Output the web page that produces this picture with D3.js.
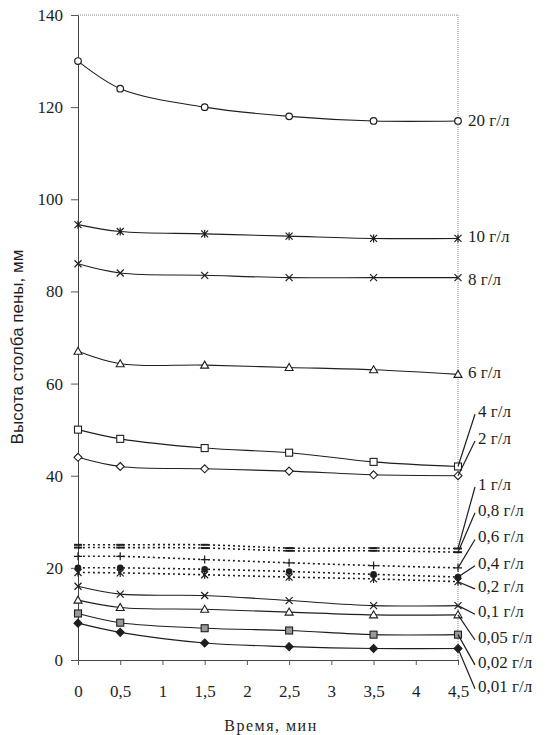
<!DOCTYPE html>
<html>
<head>
<meta charset="utf-8">
<script src="https://cdn.jsdelivr.net/npm/d3@7"></script>
</head>
<body style="margin:0">
<svg id="chart" width="547" height="735" font-family="Liberation Serif" style="font-family: 'Liberation Serif'"></svg>
<script>
// time points, min
var times = [0, 0.5, 1.5, 2.5, 3.5, 4.5]
var xTicks = [0, 0.5, 1, 1.5, 2, 2.5, 3, 3.5, 4, 4.5]
var yTicks = [0, 20, 40, 60, 80, 100, 120, 140]

// foam column height, mm, one array per concentration
var h20 = [130, 124, 120, 118, 117, 117]
var h10 = [94.5, 93, 92.5, 92, 91.5, 91.5]
var h8 = [86, 84, 83.5, 83, 83, 83]
var h6 = [67, 64.3, 64, 63.5, 63, 62]
var h4 = [50, 48, 46, 45, 43, 42]
var h2 = [44, 42, 41.5, 41, 40.2, 40]
var h1 = [25, 25, 25, 24.3, 24.3, 24.2]
var h08 = [24.4, 24.4, 24.3, 23.7, 23.7, 23.4]
var h06 = [22.5, 22.5, 21.8, 21.1, 20.5, 20]
var h04 = [20, 20, 19.7, 19.2, 18.6, 18]
var h02 = [19, 18.9, 18.5, 18, 17.6, 17]
var h01 = [16, 14.3, 14, 12.9, 11.8, 11.8]
var h005 = [13, 11.4, 11, 10.4, 9.8, 9.8]
var h002 = [10.1, 8.1, 6.9, 6.4, 5.5, 5.5]
var h001 = [8, 6, 3.7, 2.9, 2.5, 2.5]

var labels = ["20 г/л", "10 г/л", "8 г/л", "6 г/л", "4 г/л", "2 г/л", "1 г/л", "0,8 г/л",
    "0,6 г/л", "0,4 г/л", "0,2 г/л", "0,1 г/л", "0,05 г/л", "0,02 г/л", "0,01 г/л"]
var values = [h20, h10, h8, h6, h4, h2, h1, h08, h06, h04, h02, h01, h005, h002, h001]
var markers = ["circle", "asterisk", "cross", "triangle", "square", "diamond", "dash", "dash",
    "plus", "dot", "asterisk", "cross", "triangle", "graysquare", "filldiamond"]
var dotted = [false, false, false, false, false, false, true, true, true, true, true, false, false, false, false]

// where the label text sits (in axis units) and whether it gets a leader line
var labelAt = [117.3, 92, 82.7, 62.5, 54, 48.2, 38.2, 32.6, 26.8, 21.1, 16.1, 10.6, 5.0, -0.4, -5.6]
var leader = [false, false, false, false, true, true, true, true, true, true, true, true, true, true, true]

var dimensions = {
    width: 547,
    height: 735,
    margin: { top: 15, bottom: 75, left: 78, right: 89 }
}

var ink = "#1e1e1e"

var svg = d3.select("#chart")

function serifText(sel, size) {
    sel.attr("font-family", "Liberation Serif")
        .style("font-family", "'Liberation Serif'")
        .style("font-size", size + "px")
        .attr("fill", ink)
}

var xScale = d3.scaleLinear()
    .domain([0, 4.5])
    .range([dimensions.margin.left, dimensions.width - dimensions.margin.right])

var yScale = d3.scaleLinear()
    .domain([0, 140])
    .range([dimensions.height - dimensions.margin.bottom, dimensions.margin.top])

var fmt = d => String(d).replace(".", ",")

// plot frame (top/right dotted)
svg.append("path")
    .attr("d", "M" + xScale(0) + "," + yScale(140) + "H" + xScale(4.5) + "V" + yScale(0))
    .attr("fill", "none")
    .attr("stroke", "#888")
    .attr("stroke-width", 1)
    .attr("stroke-dasharray", "1,1")

var yAxisGen = d3.axisLeft(yScale)
    .tickValues(yTicks)
    .tickSizeInner(7)
    .tickSizeOuter(0)
    .tickPadding(8)

var yAxis = svg.append("g")
    .attr("transform", "translate(" + xScale(0) + ",0)")
    .call(yAxisGen)
    .attr("font-family", "Liberation Serif")
yAxis.select(".domain").attr("stroke", "#444")
yAxis.selectAll(".tick line").attr("stroke", "#555")
yAxis.selectAll("text").call(serifText, 17)

var xAxisGen = d3.axisBottom(xScale)
    .tickValues(xTicks)
    .tickFormat(fmt)
    .tickSizeInner(5)
    .tickSizeOuter(0)
    .tickPadding(20)

var xAxis = svg.append("g")
    .attr("transform", "translate(0," + yScale(0) + ")")
    .call(xAxisGen)
    .attr("font-family", "Liberation Serif")
xAxis.select(".domain").attr("stroke", "#444")
xAxis.selectAll(".tick line").attr("stroke", "#555")
xAxis.selectAll("text").call(serifText, 17)

// axis titles
svg.append("text")
    .attr("transform", "translate(23," + 347 + ") rotate(-90)")
    .attr("text-anchor", "middle")
    .attr("fill", ink)
    .attr("font-family", "Liberation Sans")
    .style("font-family", "'Liberation Sans'")
    .style("font-size", "17px")
    .text("Высота столба пены, мм")

svg.append("text")
    .attr("x", 271)
    .attr("y", 731)
    .attr("text-anchor", "middle")
    .call(serifText, 16)
    .attr("letter-spacing", "1.5")
    .text("Время, мин")

// series lines
var line = d3.line()
    .x((d, i) => xScale(times[i]))
    .y(d => yScale(d))
    .curve(d3.curveCatmullRom.alpha(0.5))

var series = svg.append("g")
    .selectAll(".series")
    .data(values)
    .enter()
    .append("g")
    .attr("class", "series")

series.append("path")
    .attr("d", d => line(d))
    .attr("fill", "none")
    .attr("stroke", ink)
    .attr("stroke-width", (d, i) => dotted[i] ? 1.6 : 1.1)
    .attr("stroke-dasharray", (d, i) => dotted[i] ? "2,3" : null)

function drawMarker(g, type, x, y) {
    var s = 3.5
    if (type == "circle") {
        g.append("circle").attr("cx", x).attr("cy", y).attr("r", 3.3)
            .attr("fill", "#fff").attr("stroke", ink).attr("stroke-width", 1.2)
    } else if (type == "dot") {
        g.append("circle").attr("cx", x).attr("cy", y).attr("r", 3.3)
            .attr("fill", ink)
    } else if (type == "triangle") {
        g.append("path").attr("d", "M" + x + "," + (y - 4) + "L" + (x + 4) + "," + (y + 3) + "L" + (x - 4) + "," + (y + 3) + "Z")
            .attr("fill", "#fff").attr("stroke", ink).attr("stroke-width", 1.1)
    } else if (type == "square" || type == "graysquare") {
        g.append("rect").attr("x", x - s).attr("y", y - s).attr("width", 2 * s).attr("height", 2 * s)
            .attr("fill", type == "square" ? "#fff" : "#999").attr("stroke", ink).attr("stroke-width", 1.1)
    } else if (type == "diamond" || type == "filldiamond") {
        g.append("path").attr("d", "M" + x + "," + (y - 4) + "L" + (x + 4) + "," + y + "L" + x + "," + (y + 4) + "L" + (x - 4) + "," + y + "Z")
            .attr("fill", type == "diamond" ? "#fff" : ink).attr("stroke", ink).attr("stroke-width", 1.1)
    } else if (type == "cross" || type == "asterisk") {
        var d = "M" + (x - s) + "," + (y - s) + "L" + (x + s) + "," + (y + s) + "M" + (x - s) + "," + (y + s) + "L" + (x + s) + "," + (y - s)
        if (type == "asterisk") d += "M" + x + "," + (y - 4) + "V" + (y + 4)
        g.append("path").attr("d", d).attr("stroke", ink).attr("stroke-width", 1.2).attr("fill", "none")
    } else if (type == "plus") {
        g.append("path").attr("d", "M" + (x - 4) + "," + y + "H" + (x + 4) + "M" + x + "," + (y - 4) + "V" + (y + 4))
            .attr("stroke", ink).attr("stroke-width", 1.2)
    } else if (type == "dash") {
        g.append("path").attr("d", "M" + (x - 4) + "," + y + "H" + (x + 4))
            .attr("stroke", ink).attr("stroke-width", 2)
    }
}

series.each(function (d, i) {
    var g = d3.select(this)
    d.forEach(function (v, j) {
        drawMarker(g, markers[i], xScale(times[j]), yScale(v))
    })
})

// end labels with leader lines
values.forEach(function (d, i) {
    var x0 = xScale(4.5)
    var y0 = yScale(d[d.length - 1])
    var ly = yScale(labelAt[i])
    var lx = leader[i] ? x0 + 20 : x0 + 10
    if (leader[i]) {
        svg.append("line")
            .attr("x1", x0)
            .attr("y1", y0)
            .attr("x2", lx - 3)
            .attr("y2", ly + 3)
            .attr("stroke", ink)
            .attr("stroke-width", 1.2)
    }
    svg.append("text")
        .attr("x", lx)
        .attr("y", ly)
        .attr("dy", "0.35em")
        .call(serifText, 17)
        .text(labels[i])
})
</script>
</body>
</html>
